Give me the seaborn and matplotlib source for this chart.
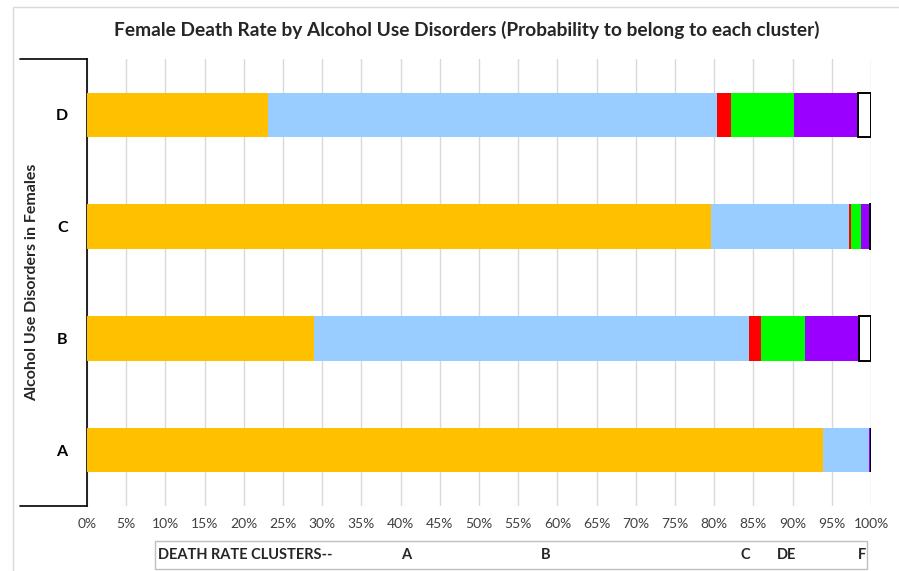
import matplotlib
matplotlib.use("Agg")
import matplotlib.pyplot as plt
from matplotlib.lines import Line2D
from matplotlib.patches import Rectangle
import numpy as np
import pandas as pd
import seaborn as sns

# Probability (%) that each disorder group belongs to each death-rate cluster
disorders = ["D", "C", "B", "A"]
clusters = ["A", "B", "C", "D", "E", "F"]
cluster_A = [23.1, 79.6, 29.0, 93.9]
cluster_B = [57.3, 17.6, 55.4, 5.8]
cluster_C = [1.7, 0.3, 1.6, 0.0]
cluster_D = [8.1, 1.2, 5.6, 0.1]
cluster_E = [8.1, 1.2, 6.9, 0.15]
cluster_F = [1.7, 0.1, 1.5, 0.05]
cluster_colors = ["#FFC000", "#99CCFF", "#FF0000", "#00FF00", "#9900FF", "#FFFFFF"]

x_ticks = list(range(0, 101, 5))
x_tick_labels = [f"{t}%" for t in x_ticks]
cluster_strip = [("DEATH RATE CLUSTERS--", 158, "left"), ("A", 406, "center"),
                 ("B", 546, "center"), ("C", 745, "center"), ("DE", 787, "center"),
                 ("F", 862, "center")]

df = pd.DataFrame({"disorder": disorders, "A": cluster_A, "B": cluster_B,
                   "C": cluster_C, "D": cluster_D, "E": cluster_E, "F": cluster_F})

sns.set_theme(style="white")
plt.rcParams["font.family"] = ["Lato", "DejaVu Sans"]

W, H = 899, 571
fig = plt.figure(figsize=(W / 100, H / 100), dpi=100)
ax = fig.add_axes([87 / W, 1 - 506 / H, 784 / W, 447 / H])

# stacked horizontal bars, one seaborn layer per cluster
left = np.zeros(len(disorders))
for name, color in zip(clusters, cluster_colors):
    is_last = name == "F"
    sns.barplot(data=df, x=name, y="disorder", order=disorders, left=left,
                color=color, saturation=1, width=0.4, errorbar=None,
                edgecolor="black" if is_last else "none",
                linewidth=1.4 if is_last else 0, ax=ax, zorder=3)
    left = left + df[name].to_numpy()

ax.set_xlim(0, 100)
ax.set_xticks(x_ticks)
ax.set_xticklabels(x_tick_labels, fontsize=10)
ax.set_xlabel("")
ax.set_ylabel("")
ax.grid(axis="x", color="#D9D9D9", linewidth=1, zorder=0)
ax.set_axisbelow(True)
for s in ["top", "right", "bottom"]:
    ax.spines[s].set_visible(False)
ax.spines["left"].set_color("black")
ax.spines["left"].set_linewidth(1.2)
ax.tick_params(axis="x", length=0, pad=9, colors="#404040")
ax.tick_params(axis="y", length=0, pad=14)
for lab in ax.get_yticklabels():
    lab.set_fontweight("bold")
    lab.set_fontsize(11.5)
    lab.set_color("black")

# bracket around the category axis
for yy in (59, 506):
    fig.add_artist(Line2D([20 / W, 87 / W], [1 - yy / H, 1 - yy / H],
                          color="black", linewidth=1.2))

fig.text(32 / W, 1 - 282 / H, "Alcohol Use Disorders in Females", rotation=90,
         ha="center", va="center", fontsize=11.5, fontweight="bold")

fig.text(467 / W, 1 - 30 / H,
         "Female Death Rate by Alcohol Use Disorders (Probability to belong to each cluster)",
         ha="center", va="center", fontsize=13.75, fontweight="bold")

# outer chart frame (partially outside the canvas)
fig.add_artist(Rectangle((13 / W, -0.1), 1.0, 1 - 7 / H + 0.1, fill=False,
                         edgecolor="#D9D9D9", linewidth=1))

# cluster strip beneath the axis
fig.add_artist(Rectangle((155 / W, 1 - 569 / H), (867 - 155) / W, 28 / H,
                         fill=False, edgecolor="#BFBFBF", linewidth=1))
for txt, xp, ha in cluster_strip:
    fig.text(xp / W, 1 - 555 / H, txt, ha=ha, va="center", fontsize=10.5,
             fontweight="bold")

fig.savefig("out.png", dpi=100)
